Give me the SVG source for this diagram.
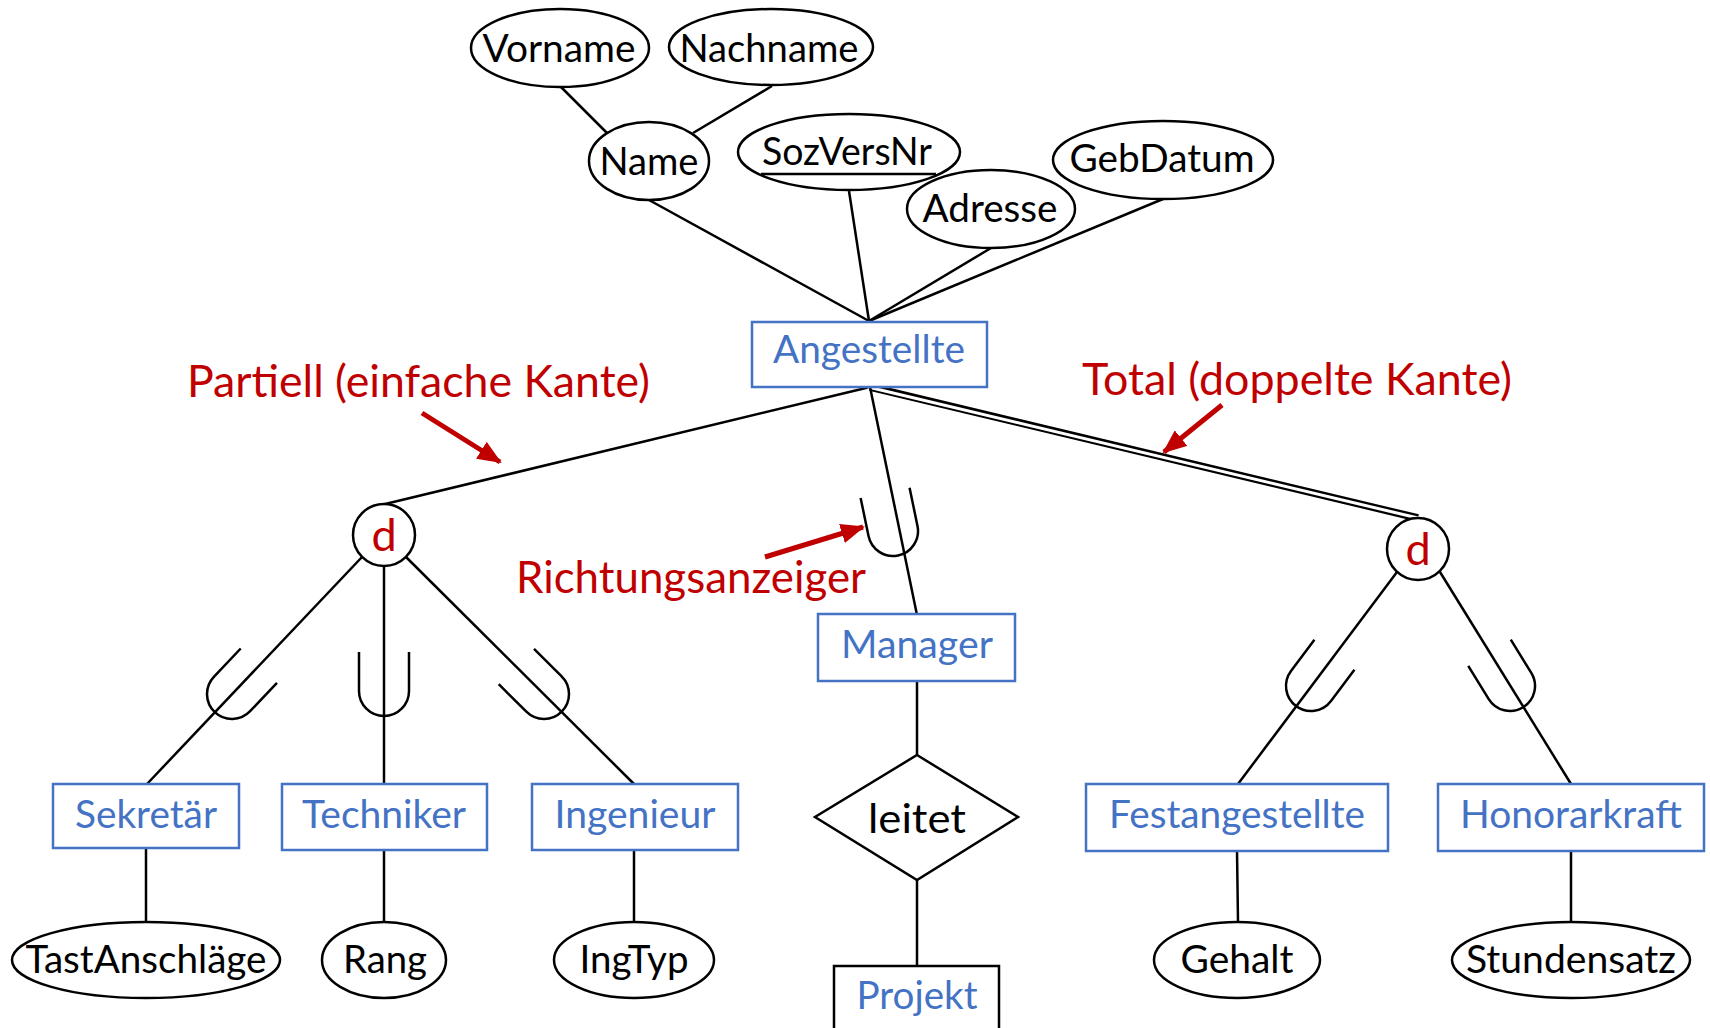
<svg xmlns="http://www.w3.org/2000/svg" width="1710" height="1028" viewBox="0 0 1710 1028">
  <defs>
    <style>
      .ln { stroke: #000; stroke-width: 2.5; fill: none; }
      .attr { fill: #fff; stroke: #000; stroke-width: 2.5; }
      .ent { fill: #fff; stroke: #4472C4; stroke-width: 2.5; }
      .rel { fill: #fff; stroke: #000; stroke-width: 2.5; }
      .circ { fill: #fff; stroke: #000; stroke-width: 2.5; }
      .t { font-family: Lato, "Liberation Sans", sans-serif; font-size: 38px; text-anchor: middle; }
      .blk { fill: #000; }
      .blue { fill: #4472C4; }
      .red { fill: #C00000; }
      .dlabel { font-size: 45px; }
      .note { font-family: Lato, "Liberation Sans", sans-serif; font-size: 44px; fill: #C00000; }
      .arrow { stroke: #C00000; stroke-width: 5; fill: none; marker-end: url(#redHead); }
    </style>
    <marker id="redHead" markerUnits="userSpaceOnUse" markerWidth="24" markerHeight="20" refX="22" refY="10" orient="auto">
      <path d="M0,0 L24,10 L0,20 z" fill="#C00000"/>
    </marker>
    <!-- subset symbol: arc centre at origin, arms open towards -y -->
    <path id="subset" d="M-25,-39 V0 A25,25 0 0 0 25,0 V-39" fill="none" stroke="#000" stroke-width="2.5"/>
  </defs>

  <rect width="1710" height="1028" fill="#fff"/>

  <!-- connectors -->
  <g id="connectors">
    <!-- attributes of Name -->
    <line class="ln" x1="561" y1="87" x2="607" y2="133"/>
    <line class="ln" x1="772" y1="86" x2="693" y2="133"/>
    <!-- attributes of Angestellte -->
    <line class="ln" x1="649" y1="200" x2="869" y2="321"/>
    <line class="ln" x1="849" y1="191" x2="869" y2="321"/>
    <line class="ln" x1="991" y1="248" x2="869" y2="321"/>
    <line class="ln" x1="1163" y1="199" x2="869" y2="321"/>

    <!-- partial specialization (single edge) -->
    <line class="ln" x1="870" y1="387" x2="381" y2="505"/>
    <!-- total specialization (double edge) -->
    <line x1="870" y1="387" x2="1418" y2="518" stroke="#000" stroke-width="7.5"/>
    <line x1="868" y1="387" x2="1420" y2="518.5" stroke="#fff" stroke-width="3"/>
    <!-- Angestellte to Manager -->
    <line class="ln" x1="870" y1="387" x2="917" y2="615"/>
    <use href="#subset" transform="translate(893,531) rotate(-11.7)"/>

    <!-- left disjoint circle to subclasses -->
    <line class="ln" x1="362" y1="557" x2="147" y2="784"/>
    <line class="ln" x1="384" y1="566" x2="384" y2="784"/>
    <line class="ln" x1="406" y1="557" x2="634" y2="784"/>
    <use href="#subset" transform="translate(232,694) rotate(43.5)"/>
    <use href="#subset" transform="translate(384,691)"/>
    <use href="#subset" transform="translate(544,694) rotate(-45.1)"/>

    <!-- right disjoint circle to subclasses -->
    <line class="ln" x1="1397" y1="572" x2="1238" y2="784"/>
    <line class="ln" x1="1440" y1="572" x2="1571" y2="784"/>
    <use href="#subset" transform="translate(1311,686) rotate(36.9)"/>
    <use href="#subset" transform="translate(1510,686) rotate(-31.7)"/>

    <!-- subclass attributes -->
    <line class="ln" x1="146" y1="848" x2="146" y2="922"/>
    <line class="ln" x1="384" y1="850" x2="384" y2="922"/>
    <line class="ln" x1="634" y1="850" x2="634" y2="922"/>
    <line class="ln" x1="1237" y1="851" x2="1238" y2="922"/>
    <line class="ln" x1="1571" y1="851" x2="1571" y2="922"/>

    <!-- Manager - leitet - Projekt -->
    <line class="ln" x1="917" y1="681" x2="917" y2="756"/>
    <line class="ln" x1="917" y1="879" x2="917" y2="966"/>
  </g>

  <!-- attribute nodes -->
  <g id="vorname">
    <ellipse class="attr" cx="560" cy="48" rx="89" ry="39"/>
    <text class="t blk" x="559" y="62" textLength="153" lengthAdjust="spacingAndGlyphs">Vorname</text>
  </g>
  <g id="nachname">
    <ellipse class="attr" cx="771" cy="47" rx="102" ry="38"/>
    <text class="t blk" x="769" y="62" textLength="179" lengthAdjust="spacingAndGlyphs">Nachname</text>
  </g>
  <g id="name">
    <ellipse class="attr" cx="649" cy="161" rx="60" ry="39"/>
    <text class="t blk" x="649" y="175" textLength="99" lengthAdjust="spacingAndGlyphs">Name</text>
  </g>
  <g id="sozversnr">
    <ellipse class="attr" cx="849" cy="152" rx="111" ry="38"/>
    <text class="t blk" x="847" y="165" textLength="170" lengthAdjust="spacingAndGlyphs">SozVersNr</text>
    <line x1="761" y1="174" x2="936" y2="174" stroke="#000" stroke-width="2.5"/>
  </g>
  <g id="adresse">
    <ellipse class="attr" cx="991" cy="209" rx="84" ry="39"/>
    <text class="t blk" x="990" y="222" textLength="135" lengthAdjust="spacingAndGlyphs">Adresse</text>
  </g>
  <g id="gebdatum">
    <ellipse class="attr" cx="1163" cy="160" rx="110" ry="39"/>
    <text class="t blk" x="1162" y="172" textLength="185" lengthAdjust="spacingAndGlyphs">GebDatum</text>
  </g>

  <!-- entity: Angestellte -->
  <g id="angestellte">
    <rect class="ent" x="752" y="322" width="235" height="65"/>
    <text class="t blue" x="869" y="363" textLength="192" lengthAdjust="spacingAndGlyphs">Angestellte</text>
  </g>

  <!-- disjoint specialization circles -->
  <g id="d-left">
    <circle class="circ" cx="384" cy="535" r="31"/>
    <text class="t red dlabel" x="384" y="551">d</text>
  </g>
  <g id="d-right">
    <circle class="circ" cx="1418" cy="549" r="31"/>
    <text class="t red dlabel" x="1418" y="565">d</text>
  </g>

  <!-- entity: Manager -->
  <g id="manager">
    <rect class="ent" x="818" y="614" width="197" height="67"/>
    <text class="t blue" x="917" y="658" textLength="152" lengthAdjust="spacingAndGlyphs">Manager</text>
  </g>

  <!-- relationship: leitet -->
  <g id="leitet">
    <polygon class="rel" points="917,755 1018,817 917,880 815,817"/>
    <text class="t blk" x="917" y="833" style="font-size:41px" textLength="98" lengthAdjust="spacingAndGlyphs">leitet</text>
  </g>

  <!-- entity: Projekt -->
  <g id="projekt">
    <rect x="834" y="966" width="165" height="80" fill="#fff" stroke="#000" stroke-width="2.5"/>
    <text class="t blue" x="917" y="1009" textLength="121" lengthAdjust="spacingAndGlyphs">Projekt</text>
  </g>

  <!-- subclass entities -->
  <g id="sekretaer">
    <rect class="ent" x="53" y="784" width="186" height="64"/>
    <text class="t blue" x="146" y="828" textLength="142" lengthAdjust="spacingAndGlyphs">Sekretär</text>
  </g>
  <g id="techniker">
    <rect class="ent" x="282" y="784" width="205" height="66"/>
    <text class="t blue" x="384" y="828" textLength="164" lengthAdjust="spacingAndGlyphs">Techniker</text>
  </g>
  <g id="ingenieur">
    <rect class="ent" x="532" y="784" width="206" height="66"/>
    <text class="t blue" x="635" y="828" textLength="161" lengthAdjust="spacingAndGlyphs">Ingenieur</text>
  </g>
  <g id="festangestellte">
    <rect class="ent" x="1086" y="784" width="302" height="67"/>
    <text class="t blue" x="1237" y="828" textLength="256" lengthAdjust="spacingAndGlyphs">Festangestellte</text>
  </g>
  <g id="honorarkraft">
    <rect class="ent" x="1438" y="784" width="266" height="67"/>
    <text class="t blue" x="1571" y="828" textLength="222" lengthAdjust="spacingAndGlyphs">Honorarkraft</text>
  </g>

  <!-- subclass attributes -->
  <g id="tastanschlaege">
    <ellipse class="attr" cx="146" cy="960" rx="134" ry="38"/>
    <text class="t blk" x="146" y="973" textLength="241" lengthAdjust="spacingAndGlyphs">TastAnschläge</text>
  </g>
  <g id="rang">
    <ellipse class="attr" cx="384" cy="960" rx="62" ry="38"/>
    <text class="t blk" x="385" y="973" textLength="84" lengthAdjust="spacingAndGlyphs">Rang</text>
  </g>
  <g id="ingtyp">
    <ellipse class="attr" cx="634" cy="960" rx="80" ry="38"/>
    <text class="t blk" x="634" y="973" textLength="109" lengthAdjust="spacingAndGlyphs">IngTyp</text>
  </g>
  <g id="gehalt">
    <ellipse class="attr" cx="1237" cy="960" rx="83" ry="38"/>
    <text class="t blk" x="1237" y="973" textLength="113" lengthAdjust="spacingAndGlyphs">Gehalt</text>
  </g>
  <g id="stundensatz">
    <ellipse class="attr" cx="1571" cy="960" rx="119" ry="38"/>
    <text class="t blk" x="1571" y="973" textLength="210" lengthAdjust="spacingAndGlyphs">Stundensatz</text>
  </g>

  <!-- annotations -->
  <g id="annotations">
    <text class="note" x="187" y="397" textLength="463" lengthAdjust="spacingAndGlyphs">Partiell (einfache Kante)</text>
    <line class="arrow" x1="422" y1="413" x2="500" y2="462"/>
    <text class="note" x="1082" y="395" textLength="430" lengthAdjust="spacingAndGlyphs">Total (doppelte Kante)</text>
    <line class="arrow" x1="1222" y1="405" x2="1164" y2="452"/>
    <text class="note" x="516" y="593" textLength="350" lengthAdjust="spacingAndGlyphs">Richtungsanzeiger</text>
    <line class="arrow" x1="765" y1="557" x2="863" y2="527"/>
  </g>
</svg>
